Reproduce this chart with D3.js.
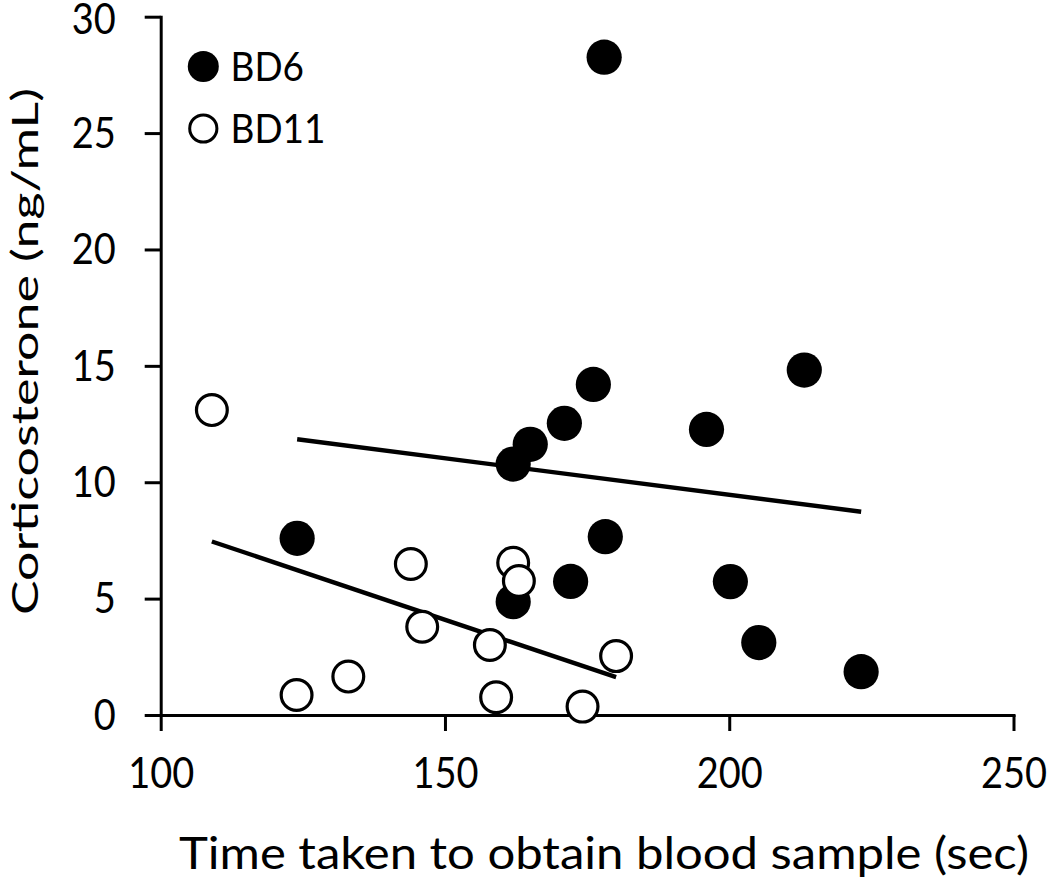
<!DOCTYPE html>
<html>
<head>
<meta charset="utf-8">
<script src="https://cdn.jsdelivr.net/npm/d3@7"></script>
<style>
  html, body { margin: 0; padding: 0; background: #fff; }
  svg text { font-family: Lato, "Open Sans", sans-serif; fill: #000; }
</style>
</head>
<body>
<svg id="chart" width="1050" height="878"></svg>
<script>
// ---- data ----
const bd6Time = [178.0, 176.1, 171.0, 213.2, 196.0, 165.0, 162.0, 124.0, 178.2, 172.1, 162.0, 200.2, 205.2, 223.2];
const bd6Cort = [28.26, 14.2, 12.53, 14.82, 12.27, 11.63, 10.78, 7.59, 7.66, 5.74, 4.87, 5.73, 3.11, 1.86];
const bd11Time = [109.0, 144.0, 162.0, 163.0, 146.0, 157.9, 180.1, 133.0, 123.9, 159.0, 174.2];
const bd11Cort = [13.10, 6.49, 6.54, 5.76, 3.79, 3.01, 2.53, 1.65, 0.86, 0.76, 0.36];
const xTicks = [100, 150, 200, 250];
const yTicks = [0, 5, 10, 15, 20, 25, 30];
const seriesNames = ["BD6", "BD11"];
const xTitle = "Time taken to obtain blood sample (sec)";
const yTitle = "Corticosterone (ng/mL)";

// ---- layout ----
const STRETCH = 1.12; // glyphs in the reference are slightly tall
const svg = d3.select("#chart");
const x = d3.scaleLinear().domain([100, 250]).range([160.7, 1013.5]);
const y = d3.scaleLinear().domain([0, 30]).range([715, 16.7]);

const series = [
  { name: seriesNames[0], xs: bd6Time, ys: bd6Cort, filled: true },
  { name: seriesNames[1], xs: bd11Time, ys: bd11Cort, filled: false }
];

// axes
const xAxis = svg.append("g").attr("transform", `translate(0,${y(0)})`)
  .call(d3.axisBottom(x).tickValues(xTicks).tickSize(16).tickSizeOuter(0));
const yAxis = svg.append("g").attr("transform", `translate(${x(100)},0)`)
  .call(d3.axisLeft(y).tickValues(yTicks).tickSize(16).tickPadding(29).tickSizeOuter(0));
[xAxis, yAxis].forEach(g => {
  g.select(".domain").attr("stroke", "#000").attr("stroke-width", 3).attr("stroke-linecap", "square");
  g.selectAll(".tick line").attr("stroke", "#000").attr("stroke-width", 3);
  g.selectAll(".tick text").style("font-size", "38px").attr("fill", "#000");
});
xAxis.selectAll(".tick text")
  .attr("y", 0).attr("dy", "0.36em")
  .attr("transform", `translate(0,58) scale(1,${STRETCH})`);
const yMax = d3.max(yTicks);
yAxis.selectAll(".tick text")
  .attr("dy", "0.36em")
  .attr("transform", d => `translate(0,${d === yMax ? 1.5 : -1}) scale(1,${STRETCH})`);

// regression lines
function fit(xs, ys) {
  const mx = d3.mean(xs), my = d3.mean(ys);
  let sxy = 0, sxx = 0;
  xs.forEach((v, i) => { sxy += (v - mx) * (ys[i] - my); sxx += (v - mx) * (v - mx); });
  const b = sxy / sxx, a = my - b * mx;
  const [x0, x1] = d3.extent(xs);
  return [[x0, a + b * x0], [x1, a + b * x1]];
}
const line = d3.line().x(d => x(d[0])).y(d => y(d[1]));
series.forEach(s => {
  svg.append("path").datum(fit(s.xs, s.ys))
    .attr("d", line).attr("fill", "none").attr("stroke", "#000").attr("stroke-width", 4.4);
});

// points
series.forEach(s => {
  svg.append("g").selectAll("circle")
    .data(s.xs.map((v, i) => [v, s.ys[i]]))
    .join("circle")
    .attr("cx", d => x(d[0])).attr("cy", d => y(d[1]))
    .attr("r", s.filled ? 17.6 : 15.4)
    .attr("fill", s.filled ? "#000" : "#fff")
    .attr("stroke", "#000")
    .attr("stroke-width", s.filled ? 0 : 3.2);
});

// legend
const legend = svg.append("g");
series.forEach((s, i) => {
  const cy = 66.5 + i * 62;
  legend.append("circle").attr("cx", 203.3).attr("cy", cy)
    .attr("r", s.filled ? 15.5 : 13.6)
    .attr("fill", s.filled ? "#000" : "#fff")
    .attr("stroke", "#000").attr("stroke-width", s.filled ? 0 : 3);
  legend.append("text")
    .attr("transform", `translate(230.5,${cy - 0.5}) scale(1,${STRETCH})`)
    .attr("dy", "0.36em")
    .style("font-size", "37px").text(s.name);
});

// axis titles
svg.append("text")
  .attr("transform", `translate(604,869) scale(1,${STRETCH})`)
  .attr("text-anchor", "middle")
  .attr("textLength", 850).attr("lengthAdjust", "spacingAndGlyphs")
  .style("font-size", "40px").text(xTitle);
svg.append("text")
  .attr("transform", `translate(38,351.5) rotate(-90)`)
  .attr("text-anchor", "middle")
  .attr("textLength", 527).attr("lengthAdjust", "spacingAndGlyphs")
  .style("font-size", "36px").text(yTitle);
</script>
</body>
</html>
